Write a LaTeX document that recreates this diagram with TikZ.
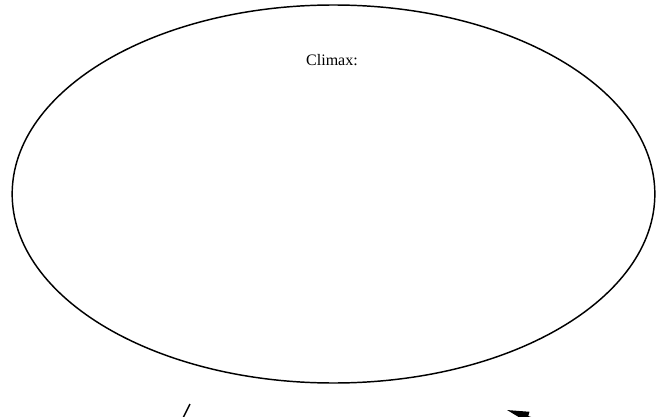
\documentclass[tikz,border=0pt]{standalone}
\usepackage{fontspec}
\setmainfont{Liberation Serif}
\usetikzlibrary{shapes.geometric, arrows.meta}

\begin{document}
\begin{tikzpicture}[x=0.75pt, y=-0.75pt, line width=1.1pt,
    oval/.style={draw, ellipse, inner sep=0pt, minimum width=482pt, minimum height=283.5pt},
    caption/.style={font=\fontsize{12}{14}\selectfont, inner sep=0pt, anchor=base}]
    % Frame of the picture
    \useasboundingbox (0,0) rectangle (656,417);
    \clip (0,0) rectangle (656,417);

    % Climax oval
    \node[oval] (climax) at (333.5,194) {};
    \node[caption] (climaxlabel) at (332,66) {Climax:};

    % Arrows running out of the bottom edge
    \coordinate (risetop) at (190,404);
    \coordinate (risefoot) at (176,432);
    \coordinate (fallhead) at (507,410);
    \coordinate (falltail) at (566,429);
    \draw (risefoot) -- (risetop);
    \draw[-{Triangle[length=16.5pt, width=7.5pt]}] (falltail) -- (fallhead);
\end{tikzpicture}
\end{document}
